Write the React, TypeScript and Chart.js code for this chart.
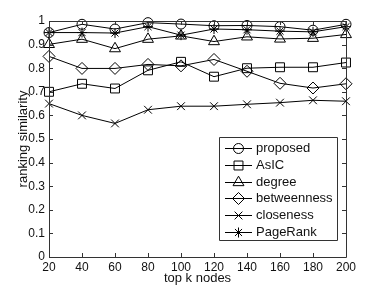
import React, { useEffect, useRef } from 'react';
import { Chart, registerables } from 'chart.js';
import { drawPoint } from 'chart.js/helpers';

Chart.register(...registerables);

const xCategories = ['20', '40', '60', '80', '100', '120', '140', '160', '180', '200'];
const proposed = [0.951, 0.986, 0.966, 0.993, 0.987, 0.98, 0.981, 0.976, 0.961, 0.986];
const asic = [0.7, 0.734, 0.714, 0.791, 0.827, 0.764, 0.8, 0.804, 0.804, 0.824];
const degree = [0.901, 0.923, 0.883, 0.923, 0.937, 0.913, 0.933, 0.924, 0.927, 0.943];
const betweenness = [0.85, 0.799, 0.799, 0.816, 0.81, 0.837, 0.787, 0.736, 0.716, 0.734];
const closeness = [0.65, 0.6, 0.566, 0.624, 0.639, 0.639, 0.647, 0.654, 0.664, 0.66];
const pageRank = [0.951, 0.951, 0.949, 0.976, 0.94, 0.966, 0.963, 0.957, 0.954, 0.976];

const seriesNames = ['proposed', 'AsIC', 'degree', 'betweenness', 'closeness', 'PageRank'];
const seriesData = [proposed, asic, degree, betweenness, closeness, pageRank];
const seriesStyles = ['circle', 'rect', 'triangle', 'rectRot', 'crossRot', 'star'];
const seriesRadii = [5, 6.3, 6.3, 6, 5.5, 5];

const FONT = "'Liberation Sans', Arial, sans-serif";
const AXIS_COLOR = '#333';

const boxPlugin = {
  id: 'matlabBox',
  afterDatasetsDraw(chart: any) {
    const { ctx, chartArea: a, scales } = chart;
    ctx.save();
    ctx.strokeStyle = AXIS_COLOR;
    ctx.lineWidth = 1;
    ctx.beginPath();
    ctx.rect(Math.round(a.left) + 0.5, Math.round(a.top) + 0.5, Math.round(a.right - a.left), Math.round(a.bottom - a.top));
    ctx.stroke();
    const tl = 4;
    ctx.beginPath();
    const xs = scales.x;
    xs.ticks.forEach((_t: any, i: number) => {
      const px = Math.round(xs.getPixelForTick(i)) + 0.5;
      ctx.moveTo(px, a.bottom);
      ctx.lineTo(px, a.bottom - tl);
      ctx.moveTo(px, a.top);
      ctx.lineTo(px, a.top + tl);
    });
    const ys = scales.y;
    ys.ticks.forEach((_t: any, i: number) => {
      const py = Math.round(ys.getPixelForTick(i)) + 0.5;
      ctx.moveTo(a.left, py);
      ctx.lineTo(a.left + tl, py);
      ctx.moveTo(a.right, py);
      ctx.lineTo(a.right - tl, py);
    });
    ctx.stroke();

    // legend
    const w = 118;
    const h = 103;
    const right = Math.round(a.right) - 9;
    const bottom = Math.round(a.bottom) - 17;
    const left = right - w;
    const top = bottom - h;
    ctx.fillStyle = '#fff';
    ctx.fillRect(left, top, w, h);
    ctx.beginPath();
    ctx.rect(left + 0.5, top + 0.5, w, h);
    ctx.stroke();
    ctx.font = `13px ${FONT}`;
    ctx.textBaseline = 'middle';
    ctx.textAlign = 'left';
    chart.data.datasets.forEach((ds: any, i: number) => {
      const y = Math.round(top + 11 + i * 16.8) + 0.5;
      ctx.strokeStyle = '#000';
      ctx.lineWidth = 1;
      ctx.beginPath();
      ctx.moveTo(left + 6, y);
      ctx.lineTo(left + 33, y);
      ctx.stroke();
      ctx.fillStyle = 'rgba(0,0,0,0)';
      drawPoint(ctx, { pointStyle: ds.pointStyle, radius: ds.pointRadius, rotation: 0, borderWidth: 1 }, left + 19.5, y);
      ctx.fillStyle = '#111';
      ctx.fillText(ds.label, left + 37, y);
    });
    ctx.restore();
  },
};

export default function App() {
  const ref = useRef<HTMLCanvasElement>(null);
  useEffect(() => {
    if (!ref.current) return;
    const chart = new Chart(ref.current, {
      type: 'line',
      data: {
        labels: xCategories,
        datasets: seriesNames.map((name, i) => ({
          label: name,
          data: seriesData[i],
          borderColor: '#000',
          borderWidth: 1,
          backgroundColor: 'rgba(0,0,0,0)',
          pointStyle: seriesStyles[i] as any,
          pointRadius: seriesRadii[i],
          pointBorderWidth: 1,
          pointBorderColor: '#000',
          pointBackgroundColor: 'rgba(0,0,0,0)',
          tension: 0,
          fill: false,
          clip: false as any,
        })),
      },
      options: {
        animation: false,
        responsive: false,
        layout: { padding: { top: 21, right: 36, left: 0, bottom: 0 } },
        plugins: { legend: { display: false }, tooltip: { enabled: false }, title: { display: false } },
        scales: {
          x: {
            type: 'category',
            offset: false,
            grid: { display: false, drawTicks: false },
            border: { display: false },
            ticks: { color: '#111', font: { family: FONT, size: 12 }, padding: 3, maxRotation: 0, autoSkip: false },
            title: { display: true, text: 'top k nodes', color: '#111', font: { family: FONT, size: 13 }, padding: { top: 0, bottom: 1 } },
            afterFit: (s: any) => { s.height = 30; },
          },
          y: {
            min: 0,
            max: 1,
            grid: { display: false, drawTicks: false },
            border: { display: false },
            ticks: {
              stepSize: 0.1,
              color: '#111',
              font: { family: FONT, size: 12 },
              padding: 4,
              callback: (v: any) => String(Number(Number(v).toFixed(1))),
            },
            title: { display: true, text: 'ranking similarity', color: '#111', font: { family: FONT, size: 13 }, padding: { top: 16, bottom: 0 } },
            afterFit: (s: any) => { s.width = 49; },
          },
        },
      },
      plugins: [boxPlugin],
    });
    return () => chart.destroy();
  }, []);
  return (
    <div style={{ position: 'fixed', left: 0, top: 0, width: 382, height: 287, background: '#fff' }}>
      <canvas ref={ref} width={382} height={287} style={{ display: 'block' }} />
    </div>
  );
}
